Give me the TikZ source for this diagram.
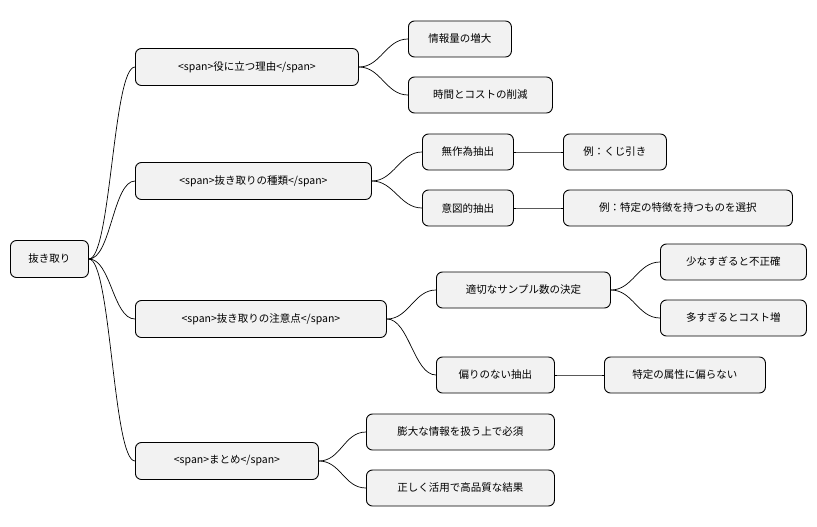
\documentclass[tikz,border=0pt]{standalone}
\usepackage{fontspec}
\setmainfont{Noto Sans CJK JP}
\usetikzlibrary{calc}
\begin{document}
\begin{tikzpicture}[x=1pt,y=-1pt,
  box/.style={draw=black,line width=0.9pt,fill=black!5,rounded corners=6pt,anchor=west,minimum height=37pt,inner xsep=0pt,font=\fontsize{10.5pt}{12pt}\selectfont},
  sbox/.style={box,minimum height=36pt},
  edge/.style={line width=0.7pt}]
\useasboundingbox[fill=white] (0,0) rectangle (817,527);
\node[box,minimum width=78pt] (r) at (10,259) {抜き取り};
\node[box,minimum width=223pt] (a) at (135,67) {<span>役に立つ理由</span>};
\node[sbox,minimum width=103pt] (a1) at (408,39) {情報量の増大};
\node[sbox,minimum width=144pt] (a2) at (408,95) {時間とコストの削減};
\node[box,minimum width=236pt] (b) at (135,181) {<span>抜き取りの種類</span>};
\node[sbox,minimum width=91pt] (b1) at (422,152) {無作為抽出};
\node[sbox,minimum width=103pt] (b1a) at (563,152) {例：くじ引き};
\node[sbox,minimum width=91pt] (b2) at (422,208) {意図的抽出};
\node[sbox,minimum width=229pt] (b2a) at (563,208) {例：特定の特徴を持つものを選択};
\node[box,minimum width=251pt] (c) at (135,319) {<span>抜き取りの注意点</span>};
\node[sbox,minimum width=174pt] (c1) at (436,290) {適切なサンプル数の決定};
\node[sbox,minimum width=146pt] (c1a) at (660,262) {少なすぎると不正確};
\node[sbox,minimum width=146pt] (c1b) at (660,318) {多すぎるとコスト増};
\node[sbox,minimum width=118pt] (c2) at (436,375) {偏りのない抽出};
\node[sbox,minimum width=161pt] (c2a) at (604,375) {特定の属性に偏らない};
\node[box,minimum width=183pt] (d) at (135,461) {<span>まとめ</span>};
\node[sbox,minimum width=188pt] (d1) at (366,432) {膨大な情報を扱う上で必須};
\node[sbox,minimum width=188pt] (d2) at (366,488) {正しく活用で高品質な結果};
\foreach \p/\c in {r/a,r/b,r/c,r/d,a/a1,a/a2,b/b1,b/b2,b1/b1a,b2/b2a,c/c1,c/c2,c1/c1a,c1/c1b,c2/c2a,d/d1,d/d2}
  \draw[edge] (\p.east) .. controls +(22,0) and +(-22,0) .. (\c.west);
\end{tikzpicture}
\end{document}
